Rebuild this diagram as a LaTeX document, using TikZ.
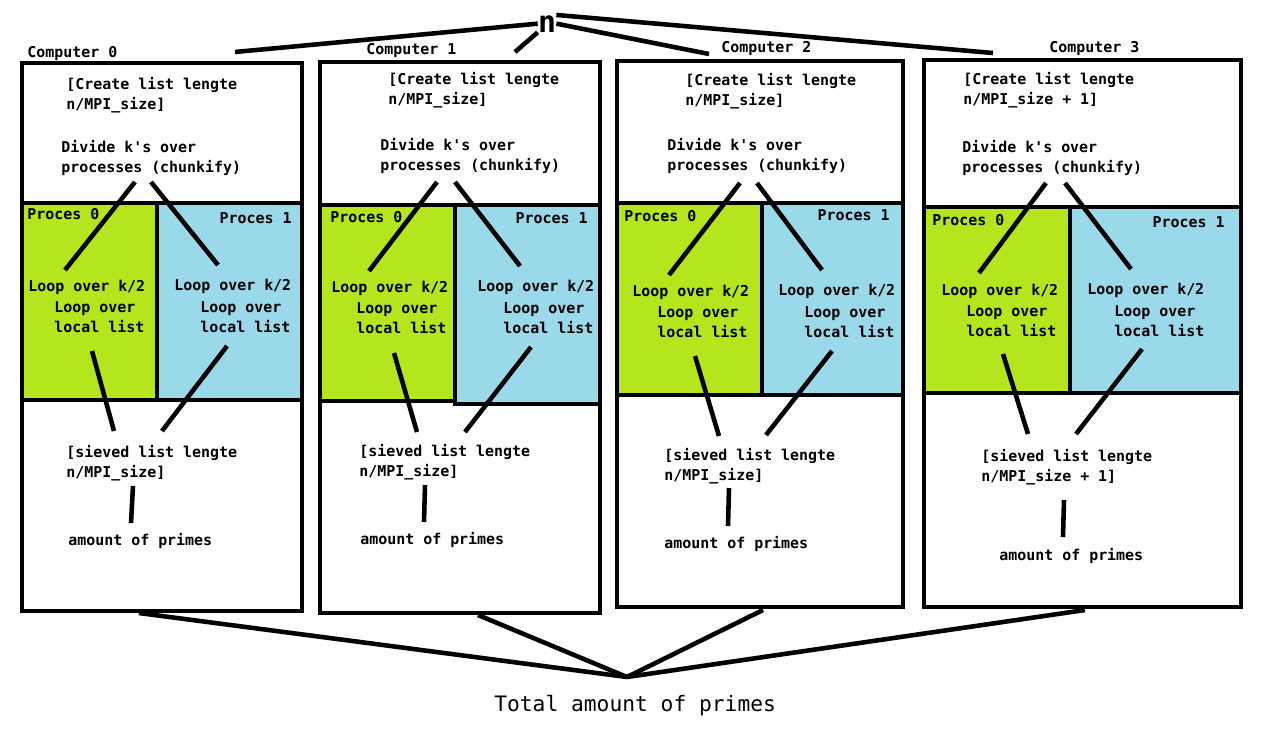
\documentclass[tikz,border=0pt]{standalone}
\usepackage{fontspec}
\setmainfont{DejaVu Sans Mono}
\definecolor{procgreen}{HTML}{B5E61D}
\definecolor{procblue}{HTML}{99D9EA}

\begin{document}
\begin{tikzpicture}[x=0.02cm,y=-0.02cm,
    box/.style={line width=2.8pt},
    wire/.style={line width=2.6pt},
    txt/.style={anchor=base west,inner sep=0pt,align=left,
      font=\fontsize{8.5}{11.3}\selectfont\bfseries},
    txtr/.style={txt,anchor=base east}]
  \useasboundingbox (0,0) rectangle (1272,752);

  % input and result
  \node[inner sep=0pt,anchor=base,font=\fontsize{17}{20}\selectfont\bfseries] (n) at (547,32) {n};
  \node[inner sep=0pt,anchor=base west,font=\fontsize{12.1}{14}\selectfont] (total) at (494,711) {Total amount of primes};
  \coordinate (sum) at (627,677);

  % Computer 0
  \draw[box,fill=procgreen] (22,203) rectangle (157,400);
  \draw[box,fill=procblue] (157,203) rectangle (302,400);
  \draw[box] (22,63) rectangle (302,611);
  \node[txt] (pc0) at (27,57) {Computer 0};
  \node[txt] (make0) at (66,109) {[Create list lengte\\n/MPI\_size]};
  \node[txt] (split0) at (61,172) {Divide k\textquotesingle s over\\processes (chunkify)};
  \node[txt] (p0a) at (27,219) {Proces 0};
  \node[txtr] (p0b) at (292,223) {Proces 1};
  \node[txt] (k0a) at (28,291) {Loop over k/2};
  \node[txt] (l0a) at (54,332) {Loop over\\local list};
  \node[txt] (k0b) at (174,290) {Loop over k/2};
  \node[txt] (l0b) at (200,332) {Loop over\\local list};
  \node[txt] (sv0) at (66,477) {[sieved list lengte\\n/MPI\_size]};
  \node[txt] (cnt0) at (68,545) {amount of primes};
  \coordinate (in0) at (235,52);
  \coordinate (s0a) at (135,182);  \coordinate (s0b) at (151,182);
  \coordinate (t0a) at (65,270);   \coordinate (t0b) at (218,265);
  \coordinate (u0a) at (92,351);   \coordinate (u0b) at (227,346);
  \coordinate (v0a) at (114,431);  \coordinate (v0b) at (162,431);
  \coordinate (w0a) at (133,486);  \coordinate (w0b) at (131,523);
  \coordinate (out0) at (139,613);

  % Computer 1
  \draw[box,fill=procgreen] (320,205) rectangle (455,401);
  \draw[box,fill=procblue] (455,205) rectangle (600,404);
  \draw[box] (320,62) rectangle (600,613);
  \node[txt] (pc1) at (366,54) {Computer 1};
  \node[txt] (make1) at (388,104) {[Create list lengte\\n/MPI\_size]};
  \node[txt] (split1) at (380,170) {Divide k\textquotesingle s over\\processes (chunkify)};
  \node[txt] (p1a) at (330,222) {Proces 0};
  \node[txtr] (p1b) at (588,223) {Proces 1};
  \node[txt] (k1a) at (331,292) {Loop over k/2};
  \node[txt] (l1a) at (356,333) {Loop over\\local list};
  \node[txt] (k1b) at (477,291) {Loop over k/2};
  \node[txt] (l1b) at (503,333) {Loop over\\local list};
  \node[txt] (sv1) at (359,476) {[sieved list lengte\\n/MPI\_size]};
  \node[txt] (cnt1) at (360,544) {amount of primes};
  \coordinate (in1) at (515,52);
  \coordinate (s1a) at (437,182);  \coordinate (s1b) at (455,182);
  \coordinate (t1a) at (369,271);  \coordinate (t1b) at (520,266);
  \coordinate (u1a) at (394,353);  \coordinate (u1b) at (531,347);
  \coordinate (v1a) at (417,432);  \coordinate (v1b) at (465,432);
  \coordinate (w1a) at (425,485);  \coordinate (w1b) at (424,522);
  \coordinate (out1) at (478,615);

  % Computer 2
  \draw[box,fill=procgreen] (617,203) rectangle (762,395);
  \draw[box,fill=procblue] (762,203) rectangle (903,395);
  \draw[box] (617,61) rectangle (903,607);
  \node[txt] (pc2) at (721,52) {Computer 2};
  \node[txt] (make2) at (685,105) {[Create list lengte\\n/MPI\_size]};
  \node[txt] (split2) at (667,170) {Divide k\textquotesingle s over\\processes (chunkify)};
  \node[txt] (p2a) at (624,221) {Proces 0};
  \node[txtr] (p2b) at (890,220) {Proces 1};
  \node[txt] (k2a) at (632,296) {Loop over k/2};
  \node[txt] (l2a) at (657,337) {Loop over\\local list};
  \node[txt] (k2b) at (778,295) {Loop over k/2};
  \node[txt] (l2b) at (804,337) {Loop over\\local list};
  \node[txt] (sv2) at (664,480) {[sieved list lengte\\n/MPI\_size]};
  \node[txt] (cnt2) at (664,548) {amount of primes};
  \coordinate (in2) at (709,54);
  \coordinate (s2a) at (740,183);  \coordinate (s2b) at (757,183);
  \coordinate (t2a) at (669,275);  \coordinate (t2b) at (822,270);
  \coordinate (u2a) at (695,356);  \coordinate (u2b) at (832,351);
  \coordinate (v2a) at (719,436);  \coordinate (v2b) at (766,435);
  \coordinate (w2a) at (729,488);  \coordinate (w2b) at (728,526);
  \coordinate (out2) at (763,610);

  % Computer 3
  \draw[box,fill=procgreen] (924,207) rectangle (1070,393);
  \draw[box,fill=procblue] (1070,207) rectangle (1241,393);
  \draw[box] (924,60) rectangle (1241,607);
  \node[txt] (pc3) at (1049,52) {Computer 3};
  \node[txt] (make3) at (963,104) {[Create list lengte\\n/MPI\_size + 1]};
  \node[txt] (split3) at (962,172) {Divide k\textquotesingle s over\\processes (chunkify)};
  \node[txt] (p3a) at (932,225) {Proces 0};
  \node[txtr] (p3b) at (1225,227) {Proces 1};
  \node[txt] (k3a) at (941,295) {Loop over k/2};
  \node[txt] (l3a) at (966,336) {Loop over\\local list};
  \node[txt] (k3b) at (1087,294) {Loop over k/2};
  \node[txt] (l3b) at (1114,336) {Loop over\\local list};
  \node[txt] (sv3) at (981,481) {[sieved list lengte\\n/MPI\_size + 1]};
  \node[txt] (cnt3) at (999,560) {amount of primes};
  \coordinate (in3) at (993,53);
  \coordinate (s3a) at (1046,183); \coordinate (s3b) at (1065,183);
  \coordinate (t3a) at (979,273);  \coordinate (t3b) at (1131,269);
  \coordinate (u3a) at (1003,354); \coordinate (u3b) at (1142,349);
  \coordinate (v3a) at (1028,434); \coordinate (v3b) at (1076,434);
  \coordinate (w3a) at (1064,500); \coordinate (w3b) at (1063,537);
  \coordinate (out3) at (1085,610);

  % n goes out to every computer
  \draw[wire] (n.west) -- (in0);
  \draw[wire] (n.south west) -- (in1);
  \draw[wire] (n.east) -- (in2);
  \draw[wire] (n.north east) -- (in3);

  % inside the computers
  \draw[wire] (s0a) -- (t0a);  \draw[wire] (s0b) -- (t0b);
  \draw[wire] (u0a) -- (v0a);  \draw[wire] (u0b) -- (v0b);
  \draw[wire] (w0a) -- (w0b);
  \draw[wire] (s1a) -- (t1a);  \draw[wire] (s1b) -- (t1b);
  \draw[wire] (u1a) -- (v1a);  \draw[wire] (u1b) -- (v1b);
  \draw[wire] (w1a) -- (w1b);
  \draw[wire] (s2a) -- (t2a);  \draw[wire] (s2b) -- (t2b);
  \draw[wire] (u2a) -- (v2a);  \draw[wire] (u2b) -- (v2b);
  \draw[wire] (w2a) -- (w2b);
  \draw[wire] (s3a) -- (t3a);  \draw[wire] (s3b) -- (t3b);
  \draw[wire] (u3a) -- (v3a);  \draw[wire] (u3b) -- (v3b);
  \draw[wire] (w3a) -- (w3b);

  % everything is summed up
  \draw[wire] (out0) -- (sum);
  \draw[wire] (out1) -- (sum);
  \draw[wire] (out2) -- (sum);
  \draw[wire] (out3) -- (sum);
\end{tikzpicture}
\end{document}
